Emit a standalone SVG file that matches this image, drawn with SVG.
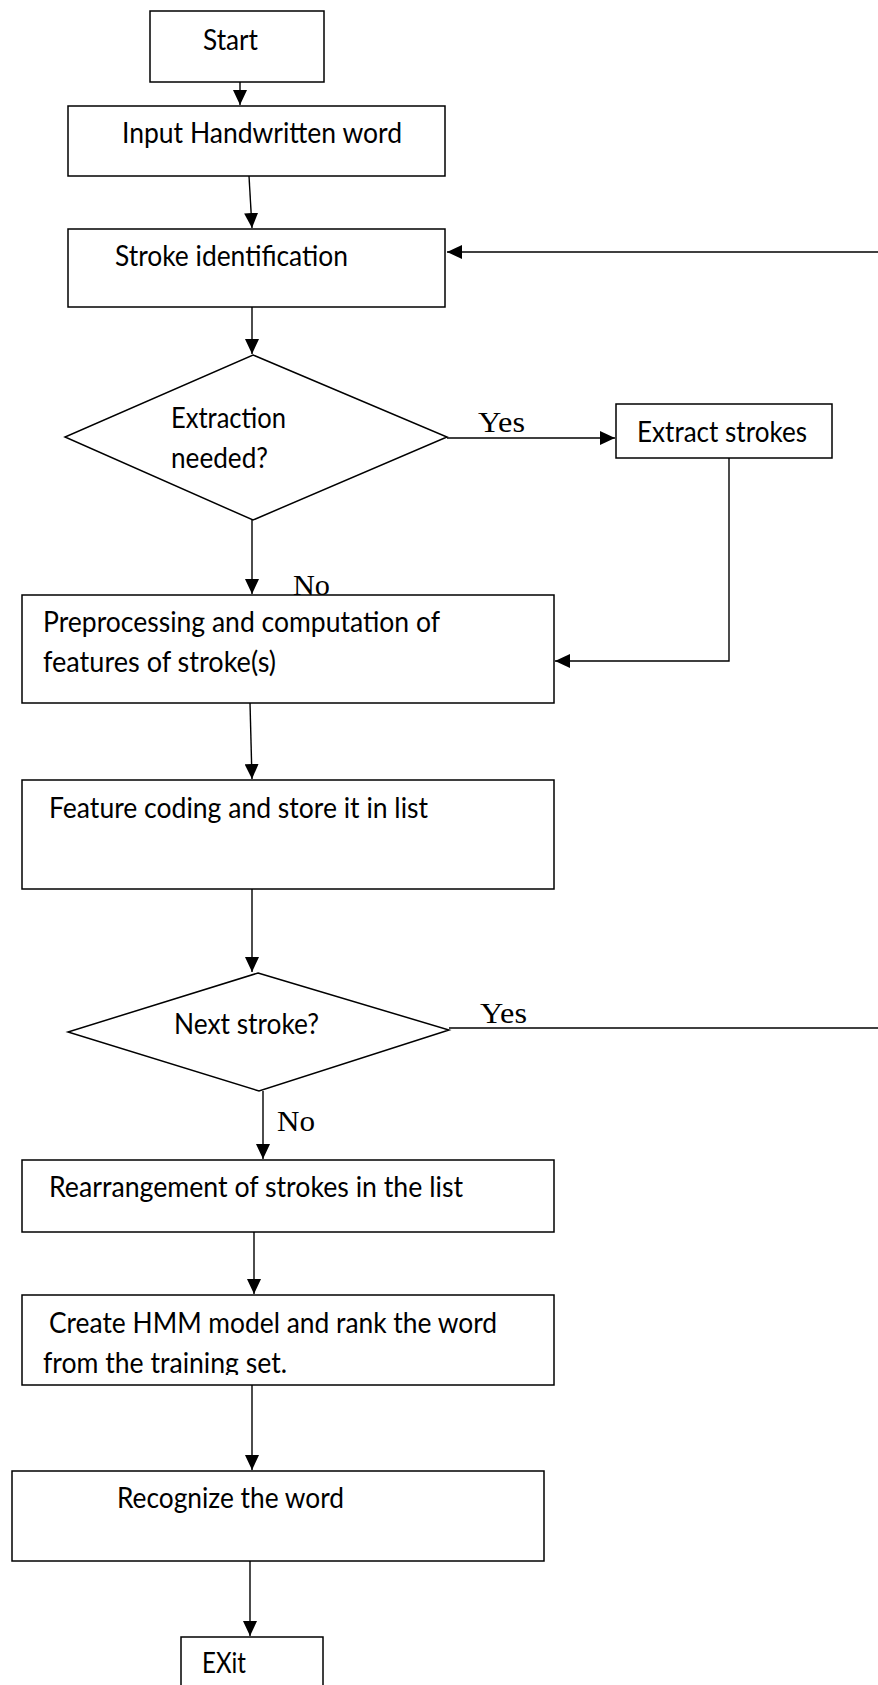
<svg xmlns="http://www.w3.org/2000/svg" width="878" height="1685" viewBox="0 0 878 1685">
<style>
.box{fill:#fff;stroke:#000;stroke-width:1.5}
.t{font-family:Lato,"Open Sans","Liberation Sans",sans-serif;font-size:29px;fill:#000}
.s{font-family:"Liberation Serif","Times New Roman",serif;font-size:30px;fill:#000}
.c{fill:none;stroke:#000;stroke-width:1.4}
</style>
<defs>
<marker id="ah" viewBox="0 0 15 14" refX="15" refY="7" markerWidth="15" markerHeight="14" markerUnits="userSpaceOnUse" orient="auto">
<path d="M0,0 L15,7 L0,14 z" fill="#000"/>
</marker>
<clipPath id="hmmclip"><rect x="22" y="1295" width="532" height="80"/></clipPath>
</defs>
<rect width="878" height="1685" fill="#fff"/>
<g id="connectors">
<line class="c" x1="240" y1="82" x2="240" y2="105" marker-end="url(#ah)"/>
<line class="c" x1="249" y1="176" x2="252" y2="228" marker-end="url(#ah)"/>
<line class="c" x1="252" y1="307" x2="252" y2="354" marker-end="url(#ah)"/>
<line class="c" x1="447" y1="438" x2="615" y2="438" marker-end="url(#ah)"/>
<line class="c" x1="252" y1="520" x2="252" y2="594" marker-end="url(#ah)"/>
<polyline class="c" points="729,458 729,661 555,661" marker-end="url(#ah)"/>
<line class="c" x1="250" y1="703" x2="252" y2="779" marker-end="url(#ah)"/>
<line class="c" x1="252" y1="889" x2="252" y2="972" marker-end="url(#ah)"/>
<line class="c" x1="449" y1="1028" x2="878" y2="1028"/>
<line class="c" x1="878" y1="252" x2="447" y2="252" marker-end="url(#ah)"/>
<line class="c" x1="263" y1="1091" x2="263" y2="1159" marker-end="url(#ah)"/>
<line class="c" x1="254" y1="1232" x2="254" y2="1294" marker-end="url(#ah)"/>
<line class="c" x1="252" y1="1385" x2="252" y2="1470" marker-end="url(#ah)"/>
<line class="c" x1="250" y1="1561" x2="250" y2="1636" marker-end="url(#ah)"/>
<text class="s" x="478" y="432" textLength="47" lengthAdjust="spacingAndGlyphs">Yes</text>
<text class="s" x="480" y="1023" textLength="47" lengthAdjust="spacingAndGlyphs">Yes</text>
<text class="s" x="277" y="1131" textLength="38" lengthAdjust="spacingAndGlyphs">No</text>
</g>
<g id="start">
<rect class="box" x="150" y="11" width="174" height="71"/>
<text class="t" x="203" y="50" textLength="55" lengthAdjust="spacingAndGlyphs">Start</text>
</g>
<g id="input">
<rect class="box" x="68" y="106" width="377" height="70"/>
<text class="t" x="122" y="143" textLength="280" lengthAdjust="spacingAndGlyphs">Input Handwritten word</text>
</g>
<g id="stroke-id">
<rect class="box" x="68" y="229" width="377" height="78"/>
<text class="t" x="115" y="266" textLength="233" lengthAdjust="spacingAndGlyphs">Stroke identification</text>
</g>
<g id="extraction-needed">
<polygon class="box" points="253,355 447,437 253,520 65,437"/>
<text class="t" x="171" y="428" textLength="115" lengthAdjust="spacingAndGlyphs">Extraction</text>
<text class="t" x="171" y="468" textLength="97" lengthAdjust="spacingAndGlyphs">needed?</text>
</g>
<g id="extract-strokes">
<rect class="box" x="616" y="404" width="216" height="54"/>
<text class="t" x="637" y="442" textLength="170" lengthAdjust="spacingAndGlyphs">Extract strokes</text>
</g>
<g id="no-label-1">
<text class="s" x="293" y="595" textLength="37" lengthAdjust="spacingAndGlyphs">No</text>
</g>
<g id="preprocessing">
<rect class="box" x="22" y="595" width="532" height="108"/>
<text class="t" x="43" y="632" textLength="397" lengthAdjust="spacingAndGlyphs">Preprocessing and computation of</text>
<text class="t" x="43" y="672" textLength="233" lengthAdjust="spacingAndGlyphs">features of stroke(s)</text>
</g>
<g id="feature-coding">
<rect class="box" x="22" y="780" width="532" height="109"/>
<text class="t" x="49" y="818" textLength="379" lengthAdjust="spacingAndGlyphs">Feature coding and store it in list</text>
</g>
<g id="next-stroke">
<polygon class="box" points="258,973 449,1030 259,1091 68,1032"/>
<text class="t" x="174" y="1034" textLength="145" lengthAdjust="spacingAndGlyphs">Next stroke?</text>
</g>
<g id="rearrangement">
<rect class="box" x="22" y="1160" width="532" height="72"/>
<text class="t" x="49" y="1197" textLength="414" lengthAdjust="spacingAndGlyphs">Rearrangement of strokes in the list</text>
</g>
<g id="hmm">
<rect class="box" x="22" y="1295" width="532" height="90"/>
<text class="t" x="49" y="1333" textLength="448" lengthAdjust="spacingAndGlyphs">Create HMM model and rank the word</text>
<text class="t" x="43" y="1373" textLength="244" lengthAdjust="spacingAndGlyphs" clip-path="url(#hmmclip)">from the training set.</text>
</g>
<g id="recognize">
<rect class="box" x="12" y="1471" width="532" height="90"/>
<text class="t" x="117" y="1508" textLength="227" lengthAdjust="spacingAndGlyphs">Recognize the word</text>
</g>
<g id="exit">
<rect class="box" x="181" y="1637" width="142" height="70"/>
<text class="t" x="202" y="1673" textLength="44" lengthAdjust="spacingAndGlyphs">EXit</text>
</g>
</svg>
